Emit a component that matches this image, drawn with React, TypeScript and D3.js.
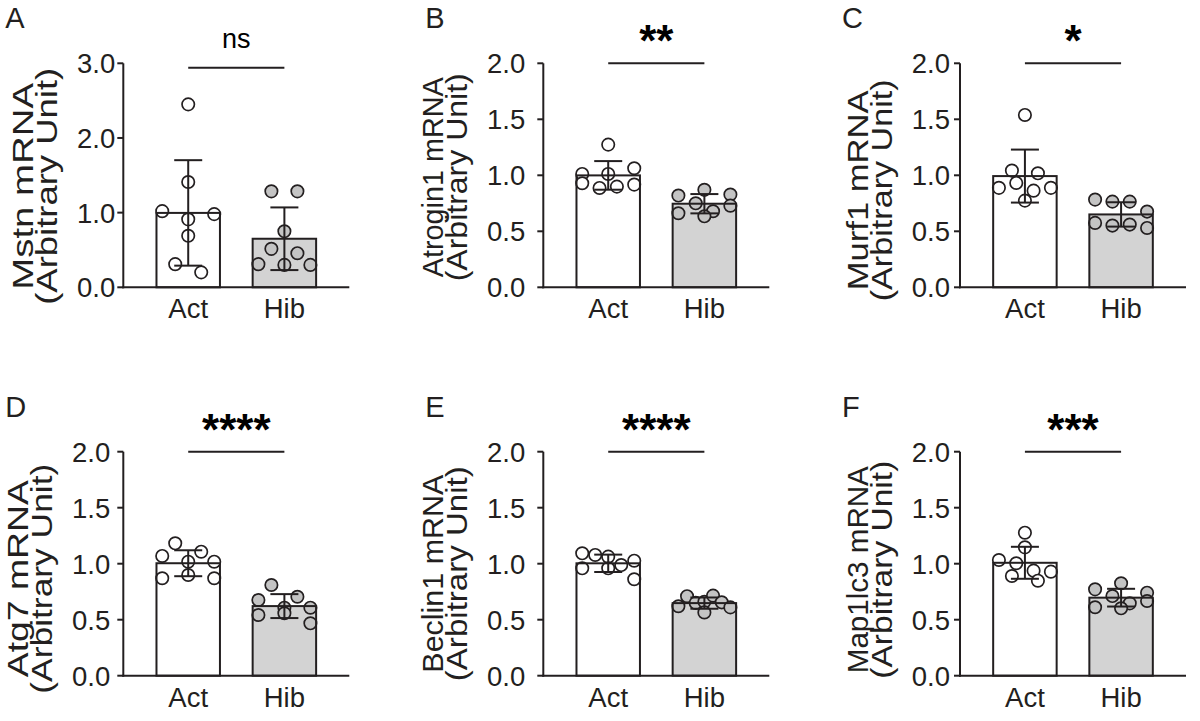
import React from "react";
import * as d3 from "d3";

// ---------- data ----------
const groups = ["Act", "Hib"];
const panelLetters = ["A", "B", "C", "D", "E", "F"];
const genes = ["Mstn", "Atrogin1", "Murf1", "Atg7", "Beclin1", "Map1lc3"];
const yMaxes = [3, 2, 2, 2, 2, 2];
const ticksWide = [0, 1, 2, 3];
const ticksNarrow = [0, 0.5, 1, 1.5, 2];
const sigLabels = ["ns", "**", "*", "****", "****", "***"];
const sigLevels = [2.94, 2, 2, 2, 2, 2];

const mstnAct = [2.45, 1.41, 1.02, 0.91, 0.98, 0.69, 0.31, 0.2];
const mstnHib = [1.285, 1.285, 0.75, 0.515, 0.457, 0.31, 0.3, 0.3];
const atrogin1Act = [1.274, 1.012, 1.012, 1.063, 0.929, 0.887, 0.899, 0.917];
const atrogin1Hib = [0.661, 0.75, 0.819, 0.87, 0.828, 0.679, 0.729, 0.634];
const murf1Act = [1.539, 1.042, 1.018, 0.888, 0.932, 0.863, 0.888, 0.774];
const murf1Hib = [0.783, 0.765, 0.765, 0.676, 0.575, 0.551, 0.56, 0.53];
const atg7Act = [1.182, 1.107, 1.069, 1.018, 1.018, 0.87, 0.899, 0.87];
const atg7Hib = [0.81, 0.705, 0.676, 0.607, 0.607, 0.542, 0.557, 0.468];
const beclin1Act = [1.093, 1.078, 1.063, 0.988, 1.027, 0.959, 0.959, 0.861];
const beclin1Hib = [0.62, 0.71, 0.65, 0.66, 0.715, 0.655, 0.61, 0.565];
const map1lc3Act = [1.277, 1.146, 1.033, 1.004, 0.938, 0.89, 0.929, 0.848];
const map1lc3Hib = [0.611, 0.711, 0.771, 0.825, 0.741, 0.646, 0.667, 0.602];

const actSeries = [mstnAct, atrogin1Act, murf1Act, atg7Act, beclin1Act, map1lc3Act];
const hibSeries = [mstnHib, atrogin1Hib, murf1Hib, atg7Hib, beclin1Hib, map1lc3Hib];

// ---------- layout ----------
const W = 1200;
const H = 721;
const colX = [123.3, 543.3, 960];
const rowY = [63.3, 451.7];
const plotH = 224;
const axisLen = 226;
const tickGaps = [8, 18, 10, 13, 18, 10];
const titleLen1 = [207, 200, 200, 197, 198, 207];
const titleLen2 = [237, 208, 222, 230, 215, 218];
const titleShift = [11, 2, 15, 15, 10, 6];
const FONT = "'Liberation Sans', Arial, Helvetica, sans-serif";
const INK = "#231f20";
const BAR_FILL = ["#ffffff", "#d3d3d3"];
const PT_FILL = ["#ffffff", "#c4c4c4"];
const R = 6.2;
const ROW_H = 12;
const HALF_SPREAD = 26;

// Prism-like scatter: group points into rows by pixel height, spread each row
function scatterOffsets(values: number[], y: (v: number) => number): number[] {
  const order = values.map((_, i) => i).sort((a, b) => values[b] - values[a]);
  const xs = new Array(values.length).fill(0);
  let k = 0;
  while (k < order.length) {
    const startY = y(values[order[k]]);
    const row: number[] = [order[k]];
    let j = k + 1;
    while (j < order.length && y(values[order[j]]) - startY < ROW_H) {
      row.push(order[j]);
      j++;
    }
    row.sort((a, b) => a - b);
    const n = row.length;
    if (n > 1) {
      const s = Math.min(HALF_SPREAD, (2 * HALF_SPREAD) / (n - 1));
      row.forEach((idx, r) => {
        xs[idx] = (r - (n - 1) / 2) * s;
      });
    }
    k = j;
  }
  return xs;
}

function Panel({ idx }: { idx: number }) {
  const ax = colX[idx % 3];
  const top = rowY[Math.floor(idx / 3)];
  const bottom = top + plotH;
  const y = d3.scaleLinear().domain([0, yMaxes[idx]]).range([bottom, top]);
  const x = d3
    .scaleBand<string>()
    .domain(groups)
    .range([ax, ax + axisLen])
    .paddingInner(0.34)
    .paddingOuter(0.345);
  const ticks = yMaxes[idx] === 3 ? ticksWide : ticksNarrow;
  const series = [actSeries[idx], hibSeries[idx]];
  const gap = tickGaps[idx];
  const t2 = ax - gap - 58;
  const t1 = t2 - 24.5;
  const cy = (top + bottom) / 2 + titleShift[idx];
  const sigY = y(sigLevels[idx]);
  const c0 = x(groups[0])! + x.bandwidth() / 2;
  const c1 = x(groups[1])! + x.bandwidth() / 2;
  const isNs = sigLabels[idx] === "ns";

  return (
    <g fontFamily={FONT}>
      <text x={ax - 118} y={top - 35} fontSize={29} fill={INK}>
        {panelLetters[idx]}
      </text>
      {/* bars */}
      {groups.map((g, gi) => {
        const m = d3.mean(series[gi])!;
        return (
          <rect
            key={g}
            x={x(g)}
            y={y(m)}
            width={x.bandwidth()}
            height={bottom - y(m)}
            fill={BAR_FILL[gi]}
            stroke="none"
          />
        );
      })}
      {/* points */}
      {groups.map((g, gi) => {
        const cx = x(g)! + x.bandwidth() / 2;
        const offs = scatterOffsets(series[gi], y);
        return series[gi].map((v, i) => (
          <circle
            key={g + i}
            cx={cx + offs[i]}
            cy={y(v)}
            r={R}
            fill={PT_FILL[gi]}
            stroke={INK}
            strokeWidth={1.7}
          />
        ));
      })}
      {/* bar outlines */}
      {groups.map((g, gi) => {
        const m = d3.mean(series[gi])!;
        return (
          <rect
            key={g}
            x={x(g)}
            y={y(m)}
            width={x.bandwidth()}
            height={bottom - y(m)}
            fill="none"
            stroke={INK}
            strokeWidth={2}
          />
        );
      })}
      {/* error bars */}
      {groups.map((g, gi) => {
        const m = d3.mean(series[gi])!;
        const sd = d3.deviation(series[gi])!;
        const cx = x(g)! + x.bandwidth() / 2;
        return (
          <g key={g} stroke={INK} strokeWidth={2}>
            <line x1={cx} x2={cx} y1={y(m - sd)} y2={y(m + sd)} />
            <line x1={cx - 14} x2={cx + 14} y1={y(m + sd)} y2={y(m + sd)} />
            <line x1={cx - 14} x2={cx + 14} y1={y(m - sd)} y2={y(m - sd)} />
          </g>
        );
      })}
      {/* axes */}
      <line x1={ax} x2={ax} y1={top} y2={bottom + 1} stroke={INK} strokeWidth={2} />
      <line x1={ax - 1} x2={ax + axisLen} y1={bottom} y2={bottom} stroke={INK} strokeWidth={2} />
      {ticks.map((t) => (
        <g key={t}>
          <line x1={ax - 6} x2={ax} y1={y(t)} y2={y(t)} stroke={INK} strokeWidth={2} />
          <text
            x={ax - gap}
            y={y(t)}
            dy="0.36em"
            textAnchor="end"
            fontSize={27.5}
            fill={INK}
          >
            {d3.format(".1f")(t)}
          </text>
        </g>
      ))}
      {groups.map((g) => (
        <text
          key={g}
          x={x(g)! + x.bandwidth() / 2}
          y={bottom + 31}
          textAnchor="middle"
          fontSize={27.5}
          fill={INK}
        >
          {g}
        </text>
      ))}
      <text
        transform={`translate(${t1},${cy}) rotate(-90)`}
        textAnchor="middle"
        fontSize={29}
        textLength={titleLen1[idx]}
        lengthAdjust="spacingAndGlyphs"
        fill={INK}
      >
        {genes[idx] + " mRNA"}
      </text>
      <text
        transform={`translate(${t2},${cy}) rotate(-90)`}
        textAnchor="middle"
        fontSize={29}
        textLength={titleLen2[idx]}
        lengthAdjust="spacingAndGlyphs"
        fill={INK}
      >
        (Arbitrary Unit)
      </text>
      {/* significance */}
      <line x1={c0} x2={c1} y1={sigY} y2={sigY} stroke={INK} strokeWidth={2} />
      <text
        x={(c0 + c1) / 2}
        y={isNs ? sigY - 20 : sigY - 7}
        textAnchor="middle"
        fontSize={isNs ? 27 : 44}
        fontWeight={isNs ? "normal" : "bold"}
        fill="#000"
      >
        {sigLabels[idx]}
      </text>
    </g>
  );
}

export default function App() {
  return (
    <svg
      width={W}
      height={H}
      viewBox={`0 0 ${W} ${H}`}
      style={{ position: "absolute", left: 0, top: 0, background: "#fff" }}
    >
      <rect width={W} height={H} fill="#fff" />
      {panelLetters.map((_, i) => (
        <Panel key={i} idx={i} />
      ))}
    </svg>
  );
}
